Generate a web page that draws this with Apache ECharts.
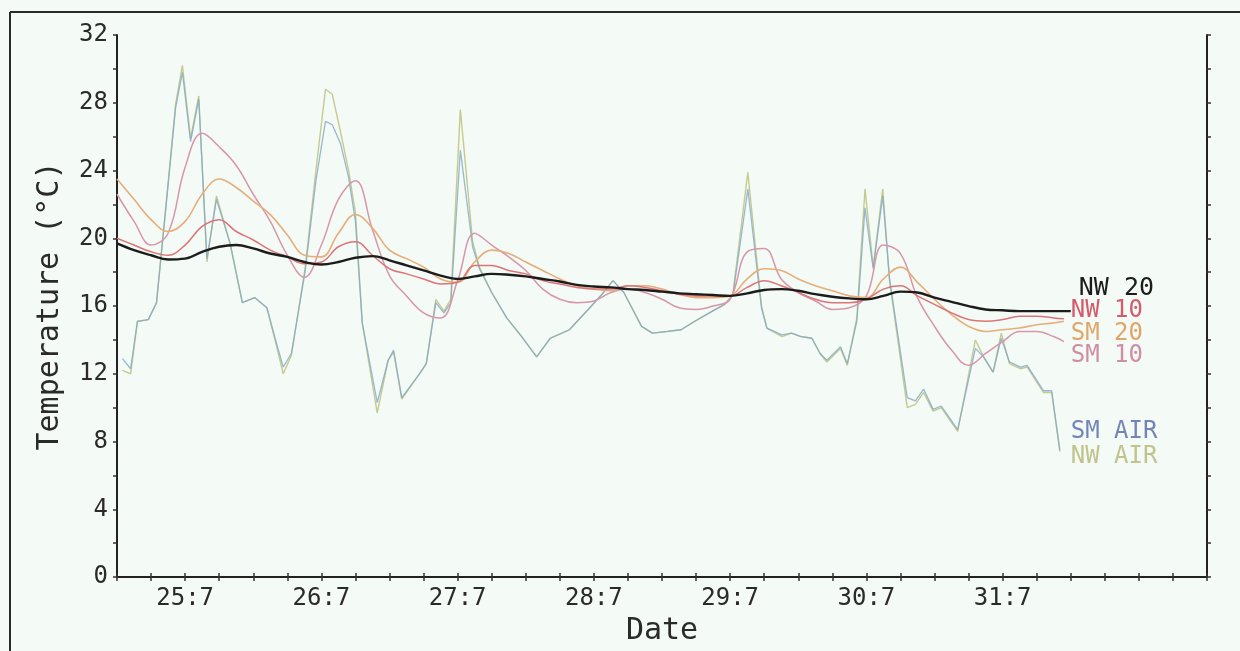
<!DOCTYPE html>
<html>
<head>
<meta charset="utf-8">
<script src="https://cdn.jsdelivr.net/npm/echarts@6/dist/echarts.min.js"></script>
<style>
html,body{margin:0;padding:0;background:#f4faf6;}
#chart{width:1240px;height:651px;}
</style>
</head>
<body>
<div id="chart"></div>
<script>
// ---- data ----
// time in days of July (e.g. 25.5 = 25 July 12:00)
const soilTime = [24.5,24.625,24.75,24.875,
  25,25.125,25.25,25.375,25.5,25.625,25.75,25.875,
  26,26.125,26.25,26.375,26.5,26.625,26.75,26.875,
  27,27.125,27.25,27.375,27.5,27.625,27.75,27.875,
  28,28.125,28.25,28.375,28.5,28.625,28.75,28.875,
  29,29.125,29.25,29.375,29.5,29.625,29.75,29.875,
  30,30.125,30.25,30.375,30.5,30.625,30.75,30.875,
  31,31.125,31.25,31.375,31.45];

const nw20 = [19.7,19.3,19.0,18.75,
  18.8,19.2,19.5,19.6,19.4,19.1,18.9,18.6,
  18.45,18.6,18.85,18.95,18.7,18.4,18.1,17.8,
  17.6,17.75,17.9,17.85,17.75,17.6,17.45,17.25,
  17.15,17.1,17.0,16.95,16.85,16.75,16.7,16.65,
  16.6,16.75,16.95,17.0,16.9,16.7,16.55,16.45,
  16.4,16.6,16.85,16.8,16.5,16.25,16.0,15.8,
  15.75,15.7,15.7,15.7,15.7];

const nw10 = [20.0,19.6,19.2,19.0,
  19.6,20.7,21.1,20.4,19.9,19.3,18.9,18.5,
  18.6,19.5,19.8,19.0,18.2,17.9,17.6,17.3,
  17.4,18.4,18.4,18.1,17.9,17.5,17.3,17.1,
  17.0,17.0,17.2,17.1,16.9,16.7,16.6,16.6,
  16.6,17.1,17.5,17.2,16.8,16.4,16.2,16.2,
  16.4,17.0,17.2,16.6,16.1,15.6,15.2,15.1,
  15.2,15.4,15.4,15.3,15.25];

const sm20 = [23.5,22.3,21.1,20.4,
  21.0,22.6,23.5,23.0,22.2,21.4,20.2,19.0,
  18.9,20.3,21.4,20.6,19.3,18.8,18.3,17.6,
  17.4,18.6,19.3,19.1,18.6,18.1,17.6,17.2,
  17.0,16.9,17.2,17.2,17.0,16.7,16.5,16.5,
  16.6,17.6,18.2,18.1,17.6,17.2,16.9,16.6,
  16.5,17.6,18.3,17.4,16.4,15.5,14.8,14.5,
  14.6,14.7,14.9,15.0,15.1];

const sm10 = [22.6,21.0,19.6,20.3,
  24.2,26.2,25.4,24.3,22.6,21.0,19.0,17.7,
  19.6,22.3,23.4,20.5,17.8,16.6,15.6,15.3,
  17.5,20.3,19.6,18.9,18.1,17.0,16.4,16.2,
  16.3,16.8,17.0,16.8,16.4,15.9,15.8,16.0,
  16.4,19.2,19.4,17.6,16.8,16.3,15.8,15.9,
  16.6,19.6,19.1,16.5,14.8,13.4,12.5,13.2,
  13.9,14.5,14.5,14.2,13.9];

const airTime = [24.54,24.60,24.65,24.73,24.79,24.86,24.93,24.98,25.04,25.10,
  25.16,25.23,25.33,25.42,25.51,25.60,25.66,25.72,25.78,25.88,
  25.96,26.03,26.08,26.14,26.20,26.25,26.30,26.41,26.49,26.53,
  26.59,26.72,26.77,26.84,26.90,26.95,27.02,27.11,27.16,27.25,
  27.36,27.47,27.58,27.68,27.82,27.97,28.06,28.14,28.22,28.35,
  28.43,28.54,28.64,28.74,28.87,28.96,29.02,29.13,29.23,29.27,
  29.38,29.45,29.52,29.60,29.66,29.71,29.81,29.86,29.93,29.99,
  30.05,30.12,30.17,30.30,30.36,30.42,30.49,30.55,30.61,30.67,
  30.80,30.86,30.93,30.99,31.05,31.13,31.18,31.30,31.36,31.42];

const smAir = [12.9,12.3,15.1,15.2,16.2,21.9,27.7,29.8,25.7,28.2,
  18.8,22.3,19.7,16.2,16.5,15.9,14.1,12.4,13.2,18.0,
  23.4,26.9,26.7,25.6,23.6,21.0,15.0,10.3,12.8,13.4,
  10.6,12.0,12.6,16.2,15.6,16.2,25.2,19.5,18.2,16.8,
  15.3,14.2,13.0,14.1,14.6,15.9,16.7,17.5,16.8,14.8,
  14.4,14.5,14.6,15.1,15.7,16.1,16.6,22.9,15.9,14.7,
  14.3,14.4,14.2,14.1,13.2,12.8,13.6,12.6,15.1,21.8,
  18.2,22.5,17.6,10.6,10.4,11.1,9.9,10.1,9.4,8.7,
  13.5,13.0,12.1,14.1,12.7,12.4,12.5,11.0,11.0,7.5];

const nwAir = [12.2,12.0,15.1,15.2,16.2,22.0,27.9,30.2,25.9,28.4,
  18.6,22.5,19.7,16.2,16.5,15.9,14.0,12.0,13.1,18.2,
  24.0,28.8,28.5,26.3,24.0,21.5,15.0,9.7,12.8,13.3,
  10.5,12.0,12.6,16.4,15.7,16.4,27.6,19.8,18.3,16.8,
  15.3,14.2,13.0,14.1,14.6,15.9,16.7,17.5,16.8,14.8,
  14.4,14.5,14.6,15.1,15.7,16.1,16.7,23.9,16.0,14.7,
  14.2,14.4,14.2,14.1,13.2,12.7,13.5,12.5,15.3,22.9,
  18.3,22.9,17.5,10.0,10.2,10.9,9.8,10.0,9.3,8.6,
  14.0,13.0,12.1,14.4,12.6,12.3,12.4,10.9,10.9,7.4];

const seriesNames = ['NW 20','NW 10','SM 20','SM 10','SM AIR','NW AIR'];
const dayLabels = [25,26,27,28,29,30,31];
const yLabels = [0,4,8,12,16,20,24,28,32];

// ---- styles / layout ----
const FONT = 'DejaVu Sans Mono';
const lineColors = {'NW 20':'#1c1c1c','NW 10':'#dc7478','SM 20':'#e6ae78','SM 10':'#d896aa','SM AIR':'#7fa8c8','NW AIR':'#c6ca8c'};
const textColors = {'NW 20':'#1c1c1c','NW 10':'#d45c6a','SM 20':'#e0a668','SM 10':'#d08ea2','SM AIR':'#7385b8','NW AIR':'#c0c48c'};
// label anchor: value level (deg C), horizontal offset from series end, font size
const labelLayout = {'NW 20':[17.05,8,25],'NW 10':[15.72,0,24],'SM 20':[14.38,0,24],'SM 10':[13.04,0,24],'SM AIR':[8.55,0,24],'NW AIR':[7.12,0,24]};

function zip(t, v){ return t.map((x,i)=>[x, v[i]]); }
// NW 20 continues horizontally to its label
const nw20Data = zip(soilTime, nw20).concat([[31.5, nw20[nw20.length-1]]]);

const axisLineStyle = {color:'#222', width:2};
const tickStyle = {show:true, inside:false, length:4, lineStyle:{color:'#333', width:1.5}};

const chart = echarts.init(document.getElementById('chart'), null, {renderer:'canvas'});
const option = {
  backgroundColor:'#f4faf6',
  animation:false,
  grid:{left:117, right:33, top:35, bottom:64, containLabel:false},
  xAxis:[{
    type:'value', min:24.5, max:32.5, interval:0.25, position:'bottom',
    axisLine:{show:true, lineStyle:axisLineStyle}, axisTick:tickStyle, splitLine:{show:false},
    axisLabel:{fontFamily:FONT, fontSize:24, color:'#2a2a2a', margin:10,
      formatter:v=> dayLabels.indexOf(v)>=0 ? v+':7' : ''},
    name:'Date', nameLocation:'middle', nameGap:36,
    nameTextStyle:{fontFamily:FONT, fontSize:30, color:'#2a2a2a'}
  },{
    type:'value', min:24.5, max:32.5, interval:0.25, position:'top',
    axisLine:{show:true, lineStyle:axisLineStyle}, axisTick:tickStyle, splitLine:{show:false},
    axisLabel:{show:false}
  }],
  yAxis:[{
    type:'value', min:0, max:32, interval:2, position:'left',
    axisLine:{show:true, lineStyle:axisLineStyle}, axisTick:tickStyle, splitLine:{show:false},
    axisLabel:{fontFamily:FONT, fontSize:24, color:'#2a2a2a', margin:9,
      formatter:v=> yLabels.indexOf(v)>=0 ? String(v) : ''},
    name:'Temperature (°C)', nameLocation:'middle', nameGap:52,
    nameTextStyle:{fontFamily:FONT, fontSize:30, color:'#2a2a2a'}
  },{
    type:'value', min:0, max:32, interval:2, position:'right',
    axisLine:{show:true, lineStyle:axisLineStyle}, axisTick:tickStyle, splitLine:{show:false},
    axisLabel:{show:false}
  }],
  series:[
    {name:'NW AIR', type:'line', data:zip(airTime,nwAir), showSymbol:false, smooth:false,
      lineStyle:{color:lineColors['NW AIR'], width:1.4}, z:2},
    {name:'SM AIR', type:'line', data:zip(airTime,smAir), showSymbol:false, smooth:false,
      lineStyle:{color:lineColors['SM AIR'], width:1.3, opacity:0.8}, z:3},
    {name:'SM 10', type:'line', data:zip(soilTime,sm10), showSymbol:false, smooth:0.4,
      lineStyle:{color:lineColors['SM 10'], width:1.5}, z:4},
    {name:'SM 20', type:'line', data:zip(soilTime,sm20), showSymbol:false, smooth:0.4,
      lineStyle:{color:lineColors['SM 20'], width:1.6}, z:5},
    {name:'NW 10', type:'line', data:zip(soilTime,nw10), showSymbol:false, smooth:0.4,
      lineStyle:{color:lineColors['NW 10'], width:1.5}, z:6},
    {name:'NW 20', type:'line', data:nw20Data, showSymbol:false, smooth:0.4,
      lineStyle:{color:lineColors['NW 20'], width:2.4}, z:7}
  ]
};
chart.setOption(option);

// frame of the figure and series labels
const endX = chart.convertToPixel({xAxisIndex:0}, 31.5);
const graphics = [
  {type:'line', shape:{x1:10, y1:12, x2:1240, y2:12}, style:{stroke:'#2a2a2a', lineWidth:2}, silent:true},
  {type:'line', shape:{x1:10, y1:12, x2:10, y2:651}, style:{stroke:'#2a2a2a', lineWidth:2}, silent:true}
];
seriesNames.forEach(n=>{
  const [lv, dx, fs] = labelLayout[n];
  graphics.push({type:'text', x:endX + dx, y:chart.convertToPixel({yAxisIndex:0}, lv),
    style:{text:n, fill:textColors[n], font:fs+'px "'+FONT+'"', textVerticalAlign:'middle', verticalAlign:'middle', textAlign:'left', align:'left'},
    silent:true, z:10});
});
chart.setOption({graphic:graphics});
</script>
</body>
</html>
